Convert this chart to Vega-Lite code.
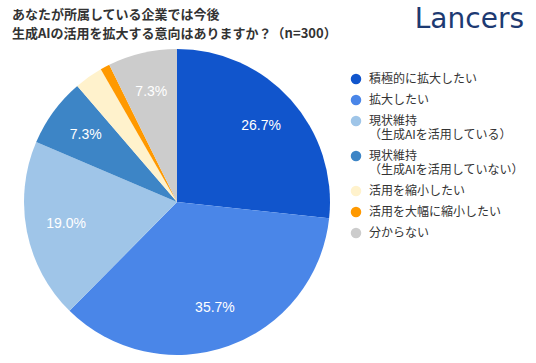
{
  "$schema": "https://vega.github.io/schema/vega-lite/v6.json",
  "autosize": {"type": "none"},
  "width": 306,
  "height": 306,
  "padding": {"left": 24, "top": 49, "right": 206, "bottom": 8},
  "background": "white",
  "title": {
    "text": ["あなたが所属している企業では今後", "生成AIの活用を拡大する意向はありますか？（n=300）"],
    "anchor": "start",
    "frame": "group",
    "dx": -12,
    "dy": 41,
    "fontSize": 13,
    "lineHeight": 19,
    "font": "Noto Sans CJK JP",
    "fontWeight": "bold",
    "color": "#333333",
    "offset": 6
  },
  "data": {
    "values": [
      {"category": "積極的に拡大したい", "pct": 0.267, "order": 1},
      {"category": "拡大したい", "pct": 0.357, "order": 2},
      {"category": "現状維持\n（生成AIを活用している）", "pct": 0.190, "order": 3},
      {"category": "現状維持\n（生成AIを活用していない）", "pct": 0.073, "order": 4},
      {"category": "活用を縮小したい", "pct": 0.030, "order": 5},
      {"category": "活用を大幅に縮小したい", "pct": 0.010, "order": 6},
      {"category": "分からない", "pct": 0.073, "order": 7}
    ]
  },
  "layer": [
    {
      "mark": {"type": "arc"},
      "encoding": {
        "theta": {"field": "pct", "type": "quantitative", "stack": true},
        "order": {"field": "order", "type": "quantitative"},
        "color": {
          "field": "category",
          "type": "nominal",
          "sort": null,
          "scale": {
            "domain": ["積極的に拡大したい", "拡大したい", "現状維持\n（生成AIを活用している）", "現状維持\n（生成AIを活用していない）", "活用を縮小したい", "活用を大幅に縮小したい", "分からない"],
            "range": ["#1155cc", "#4a86e8", "#9fc5e8", "#3d85c6", "#fff2cc", "#ff9900", "#cccccc"]
          },
          "legend": {
            "orient": "none",
            "legendX": 326,
            "legendY": -43,
            "title": "Lancers",
            "titleFontSize": 28,
            "titleFont": "DejaVu Sans",
            "titleFontWeight": "normal",
            "titleColor": "#1d3a72",
            "titleAnchor": "end",
            "titlePadding": 39,
            "symbolType": "circle",
            "symbolSize": 110,
            "symbolOpacity": 1,
            "symbolStrokeWidth": 0,
            "labelFontSize": 12,
            "labelFont": "Noto Sans CJK JP",
            "labelColor": "#333333",
            "labelExpr": "split(datum.label, '\\n')",
            "labelLimit": 0,
            "labelOffset": 7,
            "rowPadding": 9,
            "padding": 0
          }
        }
      }
    },
    {
      "mark": {"type": "text", "radius": 113, "fontSize": 14, "color": "white", "font": "Liberation Sans"},
      "encoding": {
        "theta": {"field": "pct", "type": "quantitative", "stack": true},
        "order": {"field": "order", "type": "quantitative"},
        "text": {
          "condition": {"test": "datum.pct < 0.05", "value": ""},
          "field": "pct",
          "type": "quantitative",
          "format": ".1%"
        }
      }
    }
  ],
  "config": {"view": {"stroke": null}}
}
